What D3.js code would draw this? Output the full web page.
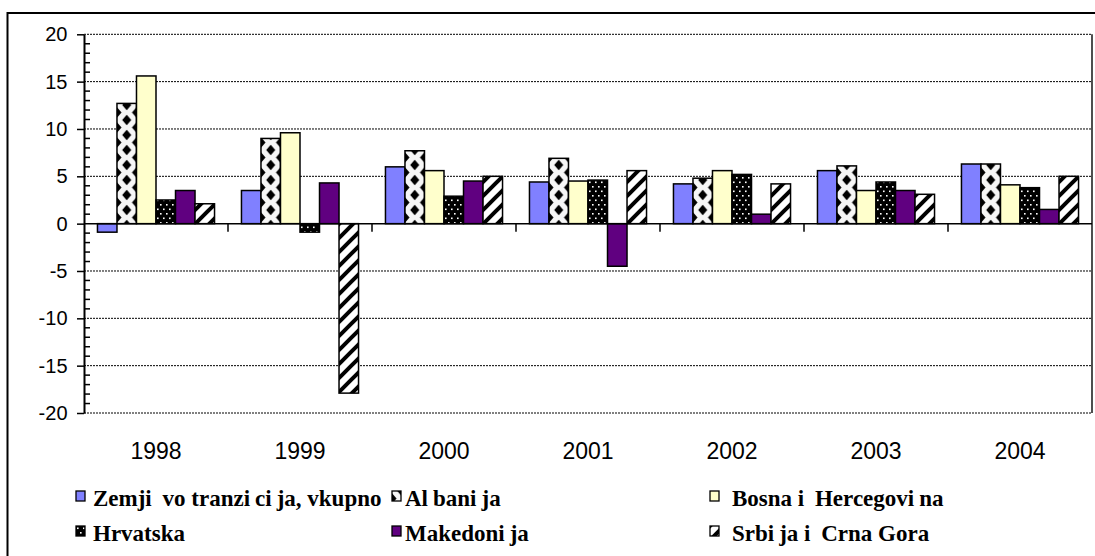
<!DOCTYPE html>
<html><head><meta charset="utf-8">
<script src="https://cdn.jsdelivr.net/npm/d3@7/dist/d3.min.js"></script>
<style>html,body{margin:0;padding:0;background:#fff;} svg{display:block;}</style>
</head><body>
<svg id="chart" width="1095" height="556"></svg>
<script>
// ---- data ----
const years = ["1998", "1999", "2000", "2001", "2002", "2003", "2004"];
const seriesNames = ["Zemji vo tranzicija, vkupno", "Albanija", "Bosna i Hercegovina", "Hrvatska", "Makedonija", "Srbija i Crna Gora"];
const zemji      = [-0.9, 3.5, 6.0, 4.4, 4.2, 5.6, 6.3];
const albanija   = [12.7, 9.0, 7.7, 6.9, 4.8, 6.1, 6.3];
const bih        = [15.6, 9.6, 5.6, 4.5, 5.6, 3.5, 4.1];
const hrvatska   = [2.5, -0.9, 2.9, 4.6, 5.2, 4.4, 3.8];
const makedonija = [3.5, 4.3, 4.5, -4.5, 1.0, 3.5, 1.5];
const srbija     = [2.1, -17.9, 5.0, 5.6, 4.2, 3.1, 5.0];
const yTickValues = [20, 15, 10, 5, 0, -5, -10, -15, -20];

const seriesValues = [zemji, albanija, bih, hrvatska, makedonija, srbija];

// ---- layout ----
const svg = d3.select("#chart");
const plot = {left: 84, right: 1092, top: 34.3, bottom: 413};

const x0 = d3.scaleBand().domain(years).range([plot.left, plot.right]).padding(0);
const x1 = d3.scaleBand().domain(d3.range(seriesNames.length)).range([0, x0.bandwidth()])
  .paddingInner(0).paddingOuter(0.69);
const y = d3.scaleLinear().domain([-20, 20]).range([plot.bottom, plot.top]);

// ---- patterns ----
const defs = svg.append("defs");
const bw = x1.bandwidth();
// Albania: diamond lattice
const pA = defs.append("pattern").attr("id", "pAlb").attr("patternUnits", "userSpaceOnUse")
  .attr("width", bw).attr("height", 15);
pA.append("rect").attr("width", bw).attr("height", 15).attr("fill", "#f6f6f6");
[[bw / 2, 0], [bw / 2, 15], [0, 7.5], [bw, 7.5]].forEach(([cx, cy]) => {
  pA.append("path").attr("d", `M${cx - 4.5},${cy} L${cx},${cy - 5.2} L${cx + 4.5},${cy} L${cx},${cy + 5.2} Z`)
    .attr("fill", "#000");
});
// Hrvatska: black with white dots
const pH = defs.append("pattern").attr("id", "pHrv").attr("patternUnits", "userSpaceOnUse")
  .attr("width", 6).attr("height", 9);
pH.append("rect").attr("width", 6).attr("height", 9).attr("fill", "#000");
pH.append("rect").attr("x", 1).attr("y", 1.5).attr("width", 1.6).attr("height", 1.6).attr("fill", "#fff");
pH.append("rect").attr("x", 4).attr("y", 6).attr("width", 1.6).attr("height", 1.6).attr("fill", "#fff");
// Srbija: wide upward diagonal
const pS = defs.append("pattern").attr("id", "pSrb").attr("patternUnits", "userSpaceOnUse")
  .attr("width", 14).attr("height", 14);
pS.append("rect").attr("width", 14).attr("height", 14).attr("fill", "#fff");
pS.append("path").attr("d", "M-3.5,3.5 l7,-7 M0,14 l14,-14 M10.5,17.5 l7,-7")
  .attr("stroke", "#000").attr("stroke-width", 4);

const fills = ["#8080ff", "url(#pAlb)", "#ffffcc", "url(#pHrv)", "#600080", "url(#pSrb)"];

// ---- outer frame ----
svg.append("rect").attr("x", 7.5).attr("y", 13).attr("width", 1100).attr("height", 560)
  .attr("fill", "none").attr("stroke", "#000").attr("stroke-width", 2);

// ---- gridlines ----
svg.append("g").selectAll("line").data(yTickValues.filter(v => v !== 0)).join("line")
  .attr("x1", plot.left).attr("x2", plot.right)
  .attr("y1", d => y(d)).attr("y2", d => y(d))
  .attr("stroke", "#000").attr("stroke-width", 1).attr("stroke-dasharray", "2,1");

// right border of plot
svg.append("line").attr("x1", plot.right).attr("x2", plot.right)
  .attr("y1", y(20)).attr("y2", y(-20)).attr("stroke", "#222").attr("stroke-width", 1.6);

// ---- bars ----
const groups = svg.append("g").selectAll("g").data(years).join("g");
groups.each(function (yr, gi) {
  const g = d3.select(this);
  seriesValues.forEach((vals, si) => {
    const v = vals[gi];
    g.append("g").attr("transform", `translate(${x0(yr) + x1(si)},0)`)
      .append("rect")
      .attr("x", 0).attr("y", y(Math.max(0, v)))
      .attr("width", x1.bandwidth()).attr("height", Math.abs(y(v) - y(0)))
      .attr("fill", fills[si]).attr("stroke", "#000").attr("stroke-width", 1.5);
  });
});

// ---- zero line and category boundary ticks ----
svg.append("line").attr("x1", plot.left).attr("x2", plot.right)
  .attr("y1", y(0)).attr("y2", y(0)).attr("stroke", "#000").attr("stroke-width", 1.5);
svg.append("g").selectAll("line").data(years.slice(1)).join("line")
  .attr("x1", d => x0(d)).attr("x2", d => x0(d))
  .attr("y1", y(0)).attr("y2", y(0) + 8).attr("stroke", "#000").attr("stroke-width", 1.5);

// ---- y axis ----
const yAxisG = svg.append("g").attr("transform", `translate(${plot.left},0)`)
  .call(d3.axisLeft(y).tickValues(yTickValues).tickFormat(d => String(d))
    .tickSize(7).tickPadding(9.5).tickSizeOuter(0));
yAxisG.select(".domain").attr("stroke", "#000").attr("stroke-width", 2);
yAxisG.selectAll(".tick line").attr("stroke", "#000").attr("stroke-width", 1.5);
yAxisG.selectAll("text").attr("font-family", "'Liberation Sans', Arial, sans-serif")
  .attr("font-size", 20).attr("fill", "#000");
// minor ticks (inside)
svg.append("g").selectAll("line").data(d3.range(-20, 21).filter(v => v % 5 !== 0)).join("line")
  .attr("x1", plot.left).attr("x2", plot.left + 6)
  .attr("y1", d => y(d)).attr("y2", d => y(d)).attr("stroke", "#000").attr("stroke-width", 1.5);

// ---- x category labels ----
const xAxisG = svg.append("g").attr("transform", `translate(0,${plot.bottom})`)
  .call(d3.axisBottom(x0).tickSize(0).tickPadding(30));
xAxisG.select(".domain").remove();
xAxisG.selectAll("text").attr("font-family", "'Liberation Sans', Arial, sans-serif")
  .attr("font-size", 23).attr("fill", "#000");

// ---- legend ----
const legCols = [{mx: 76, tx: 93}, {mx: 392, tx: 405}, {mx: 710, tx: 732}];
const legRows = [{my: 491, ty: 506}, {my: 526, ty: 541}];
seriesNames.forEach((name, i) => {
  const c = legCols[i % 3], r = legRows[Math.floor(i / 3)];
  svg.append("g").attr("transform", `translate(${c.mx},${r.my})`)
    .append("rect").attr("width", 9).attr("height", 10)
    .attr("fill", fills[i]).attr("stroke", "#000").attr("stroke-width", 1.3);
  const t = svg.append("text").attr("x", c.tx).attr("y", r.ty)
    .attr("font-family", "'Liberation Serif', 'Times New Roman', serif")
    .attr("font-weight", "bold").attr("font-size", 23).attr("fill", "#000")
    .style("white-space", "pre");
  // split after narrow glyphs 'i' and 'l' (rendered with wide advance in the original)
  const segs = name.split(/(?<=[il])/);
  segs.forEach((s, k) => {
    t.append("tspan").attr("dx", k === 0 ? 0 : 5).text(s);
  });
});
</script>
</body></html>
